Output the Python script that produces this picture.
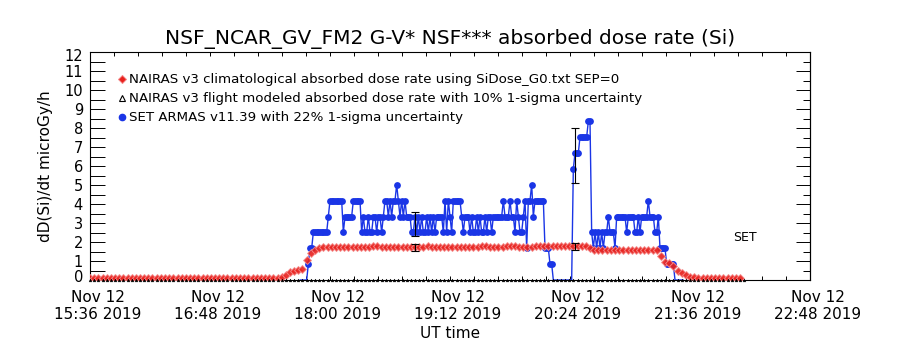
import numpy as np, pandas as pd, matplotlib
matplotlib.use("Agg")
import matplotlib.pyplot as plt, seaborn as sns
from matplotlib.lines import Line2D
from matplotlib.transforms import ScaledTranslation

sns.set_theme(style="white")
plt.rcParams["font.family"] = ["DejaVu Sans"]
plt.rcParams.update({"text.color": "black", "axes.labelcolor": "black",
                     "xtick.color": "black", "ytick.color": "black"})

DAY = "2019-11-12 "

# 1. DATA
# SET ARMAS absorbed dose rate, one value per minute from 17:42
set_start = "17:42"
set_rate = [
    0, 0, 0, 0, 0, 0.84, 1.67, 1.67, 2.51, 2.51,
    2.51, 2.51, 2.51, 2.51, 2.51, 2.51, 2.51, 3.34, 4.18, 4.18,
    4.18, 4.18, 4.18, 4.18, 4.18, 4.18, 2.51, 3.34, 3.34, 3.34,
    3.34, 3.34, 4.18, 4.18, 4.18, 4.18, 4.18, 2.51, 3.34, 2.51,
    2.51, 3.34, 2.51, 2.51, 3.34, 3.34, 2.51, 3.34, 3.34, 2.51,
    3.34, 4.18, 4.18, 3.34, 4.18, 3.34, 4.18, 4.18, 5.02, 4.18,
    3.34, 4.18, 3.34, 4.18, 3.34, 3.34, 3.34, 2.51, 2.51, 3.34,
    2.51, 3.34, 2.51, 3.34, 2.51, 2.51, 3.34, 2.51, 3.34, 2.51,
    3.34, 2.51, 3.34, 3.34, 3.34, 3.34, 2.51, 4.18, 2.51, 4.18,
    3.34, 2.51, 4.18, 4.18, 4.18, 4.18, 4.18, 3.34, 2.51, 3.34,
    3.34, 3.34, 2.51, 3.34, 2.51, 2.51, 3.34, 2.51, 3.34, 2.51,
    2.51, 3.34, 2.51, 3.34, 3.34, 2.51, 3.34, 3.34, 3.34, 3.34,
    3.34, 3.34, 4.18, 3.34, 3.34, 3.34, 4.18, 3.34, 3.34, 2.51,
    4.18, 3.34, 2.51, 2.51, 3.34, 4.18, 1.67, 4.18, 4.18, 5.02,
    3.34, 4.18, 4.18, 4.18, 4.18, 4.18, 4.18, 1.67, 1.67, 1.67,
    0.84, 0.84, 0, 0, 0, 0, 0, 0, 0, 0,
    0, 0, 0, 0, 5.85, 6.69, 6.69, 6.69, 7.53, 7.53,
    7.53, 7.53, 7.53, 8.36, 8.36, 2.51, 1.67, 2.51, 1.67, 2.51,
    1.67, 2.51, 1.67, 2.51, 2.51, 3.34, 2.51, 2.51, 2.51, 1.67,
    3.34, 3.34, 3.34, 3.34, 3.34, 3.34, 2.51, 3.34, 3.34, 3.34,
    3.34, 2.51, 2.51, 3.34, 2.51, 3.34, 3.34, 3.34, 3.34, 4.18,
    3.34, 3.34, 3.34, 2.51, 2.51, 3.34, 1.67, 1.67, 1.67, 1.67,
    0.84, 0.84, 0.84, 0.84, 0.84, 0, 0, 0, 0, 0, 0,
]

# NAIRAS climatological dose rate, every 2.5 min from 15:36
nairas_start = "15:36"
nairas_rate = [
    0.08, 0.08, 0.08, 0.08, 0.08, 0.08, 0.08, 0.08, 0.08, 0.08,
    0.08, 0.08, 0.08, 0.08, 0.08, 0.08, 0.08, 0.08, 0.08, 0.08,
    0.08, 0.08, 0.08, 0.08, 0.08, 0.08, 0.08, 0.08, 0.08, 0.08,
    0.08, 0.08, 0.08, 0.08, 0.08, 0.08, 0.08, 0.08, 0.08, 0.08,
    0.08, 0.08, 0.08, 0.08, 0.08, 0.10, 0.15, 0.25, 0.40, 0.50,
    0.55, 0.60, 1.05, 1.40, 1.60, 1.70, 1.75, 1.76, 1.75, 1.74,
    1.74, 1.75, 1.76, 1.75, 1.74, 1.74, 1.75, 1.76, 1.77, 1.77,
    1.76, 1.75, 1.74, 1.74, 1.75, 1.75, 1.74, 1.73, 1.74, 1.75,
    1.76, 1.77, 1.76, 1.75, 1.74, 1.74, 1.75, 1.76, 1.76, 1.75,
    1.74, 1.74, 1.75, 1.76, 1.77, 1.77, 1.76, 1.75, 1.75, 1.76,
    1.77, 1.78, 1.77, 1.76, 1.75, 1.75, 1.76, 1.77, 1.78, 1.79,
    1.79, 1.78, 1.78, 1.79, 1.79, 1.80, 1.79, 1.79, 1.78, 1.78,
    1.70, 1.60, 1.58, 1.58, 1.57, 1.57, 1.58, 1.58, 1.58, 1.57,
    1.57, 1.58, 1.58, 1.57, 1.57, 1.56, 1.56, 1.25, 0.95, 0.88,
    0.75, 0.50, 0.38, 0.25, 0.18, 0.14, 0.10, 0.10, 0.10, 0.10,
    0.10, 0.10, 0.10, 0.10, 0.10, 0.10, 0.10,
]
# NAIRAS flight-modeled rate sits on the zero line, same 2.5 min steps
flight_rate = [0.0] * 158

# 1-sigma error bars drawn at two times
err_times = ["18:51", "20:27"]
set_err_mid = [2.95, 6.55]
nairas_err_mid = [1.72, 1.75]
set_sigma, nairas_sigma = 0.22, 0.10

tick_labels = ["Nov 12\n15:36 2019", "Nov 12\n16:48 2019", "Nov 12\n18:00 2019",
               "Nov 12\n19:12 2019", "Nov 12\n20:24 2019", "Nov 12\n21:36 2019",
               "Nov 12\n22:48 2019"]
legend_labels = ["NAIRAS v3 climatological absorbed dose rate using SiDose_G0.txt SEP=0",
                 "NAIRAS v3 flight modeled absorbed dose rate with 10% 1-sigma uncertainty",
                 "SET ARMAS v11.39 with 22% 1-sigma uncertainty"]

set_df = pd.DataFrame({
    "time": pd.date_range(DAY + set_start, periods=len(set_rate), freq="1min"),
    "rate": set_rate})
nairas_df = pd.DataFrame({
    "time": pd.date_range(DAY + nairas_start, periods=len(nairas_rate), freq="150s"),
    "rate": nairas_rate})
flight_df = pd.DataFrame({
    "time": pd.date_range(DAY + nairas_start, periods=len(flight_rate), freq="150s"),
    "rate": flight_rate})
err_t = pd.to_datetime([DAY + t for t in err_times])

BLUE, RED = "#1a35e6", "#e8201c"

# 2. PLOT
fig = plt.figure(figsize=(9, 3.5), dpi=100)
ax = fig.add_axes([0.1, 0.2, 0.8, 228 / 350])

sns.lineplot(data=set_df, x="time", y="rate", ax=ax, color=BLUE, lw=1,
             estimator=None, zorder=3)
nz = set_df[set_df.rate > 0]
sns.scatterplot(data=nz, x="time", y="rate", ax=ax, color=BLUE, marker="o",
                s=24, edgecolor=BLUE, linewidth=0, zorder=4)
sns.scatterplot(data=nairas_df, x="time", y="rate", ax=ax, marker="D", s=16,
                color=RED, edgecolor="#f58a8a", linewidth=0.7, alpha=0.9, zorder=5)
sns.scatterplot(data=flight_df, x="time", y="rate", ax=ax, marker="^", s=4,
                color="black", edgecolor="black", linewidth=0.3, zorder=6, clip_on=False)

ax.errorbar(err_t, set_err_mid, yerr=np.array(set_err_mid) * set_sigma, fmt="none",
            ecolor="black", elinewidth=0.8, capsize=2.8, capthick=0.8, zorder=7)
ax.errorbar(err_t, nairas_err_mid, yerr=np.array(nairas_err_mid) * nairas_sigma,
            fmt="none", ecolor="black", elinewidth=0.8, capsize=2.8, capthick=0.8, zorder=7)

ax.text(pd.Timestamp(DAY + "22:09"), 2.26, "SET", fontsize=9, ha="center", va="center")

# axes, ticks
major = pd.date_range(DAY + "15:36", DAY + "22:48", freq="72min")
minor = pd.date_range(DAY + "15:36", DAY + "22:48", freq="864s")
ax.set_xlim(major[0], major[-1])
ax.set_ylim(0, 12)
ax.set_xticks(major)
ax.set_xticks(minor, minor=True)
ax.set_xticklabels(tick_labels, fontsize=11, linespacing=1.15)
ax.set_yticks(range(13))
ax.set_yticks(np.arange(0.5, 12, 1), minor=True)
ax.set_yticklabels([str(i) for i in range(13)], fontsize=10.5)
ax.tick_params(axis="x", which="both", direction="in", top=True, bottom=True,
               length=3, width=0.7, pad=7, color="black")
ax.tick_params(axis="y", which="both", direction="in", left=True, right=False,
               length=10.8, width=0.7, pad=5, color="black")
sec = ax.secondary_yaxis("right")
sec.set_yticks(range(13))
sec.set_yticks(np.arange(0.5, 12, 1), minor=True)
sec.set_yticklabels([])
sec.tick_params(which="major", direction="in", length=10, width=0.7, color="black")
sec.tick_params(which="minor", direction="in", length=5, width=0.7, color="black")
sec.spines["right"].set_linewidth(0.8)
sec.spines["right"].set_color("black")
for s in ax.spines.values():
    s.set_color("black"); s.set_linewidth(0.8)

off = ScaledTranslation(8 / 100, 0, fig.dpi_scale_trans)
for lab in ax.get_xticklabels():
    lab.set_transform(lab.get_transform() + off)
ylabs = ax.get_yticklabels()
ylabs[12].set_transform(ylabs[12].get_transform() + ScaledTranslation(0, -3 / 100, fig.dpi_scale_trans))
ylabs[0].set_transform(ylabs[0].get_transform() + ScaledTranslation(0, 4 / 100, fig.dpi_scale_trans))

ax.set_xlabel("UT time", fontsize=11, labelpad=3)
ax.set_ylabel("dD(Si)/dt microGy/h", fontsize=11, labelpad=8)
ax.set_title("NSF_NCAR_GV_FM2 G-V* NSF*** absorbed dose rate (Si)", fontsize=14.5, pad=6)

handles = [Line2D([], [], ls="none", marker="D", ms=4, mfc=RED, mec="#f58a8a", mew=0.7),
           Line2D([], [], ls="none", marker="^", ms=4, mfc="none", mec="black", mew=0.8),
           Line2D([], [], ls="none", marker="o", ms=4.5, mfc=BLUE, mec=BLUE)]
ax.legend(handles, legend_labels, loc="upper left", bbox_to_anchor=(0.03, 0.935),
          frameon=False, fontsize=9.6, handlelength=0.6, handletextpad=0.2,
          labelspacing=0.45, borderpad=0)

plt.savefig("out.png", dpi=100)
plt.close()
